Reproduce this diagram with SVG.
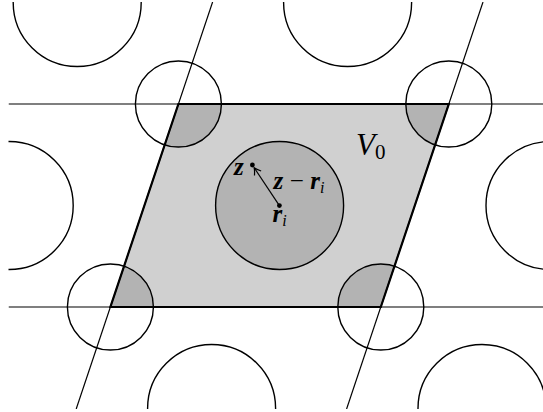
<svg xmlns="http://www.w3.org/2000/svg" width="543" height="412" viewBox="0 0 543 412">
  <defs>
    <clipPath id="view"><rect x="8.5" y="2" width="540" height="407"/></clipPath>
    <clipPath id="cell"><polygon points="178.4,104 448.8,104 380.8,307 110.4,307"/></clipPath>
    <marker id="arr" viewBox="-8 -5 10 10" markerWidth="10" markerHeight="10" refX="0" refY="0" orient="auto" markerUnits="userSpaceOnUse">
      <path d="M-6.5,-4 Q-2.5,-1 0,0 Q-2.5,1 -6.5,4" fill="none" stroke="#000" stroke-width="1.2"/>
    </marker>
  </defs>
  <style>
    .ln { stroke: #000; stroke-width: 1.2; fill: none; }
    .circ { stroke: #000; stroke-width: 1.4; fill: none; }
    .big { stroke: #000; stroke-width: 1.4; fill: #b3b3b3; }
    .cellfill { fill: #d0d0d0; stroke: none; }
    .cellborder { fill: none; stroke: #000; stroke-width: 2.2; stroke-linejoin: miter; }
    .dark { fill: #b3b3b3; stroke: none; }
    .dot { fill: #000; }
    .vec { font-family: "Liberation Serif", "DejaVu Serif", serif; font-style: italic; font-weight: bold; font-size: 25px; fill: #000; }
    .sub { font-family: "Liberation Serif", "DejaVu Serif", serif; font-style: italic; font-size: 16px; fill: #000; }
  </style>
  <rect width="543" height="412" fill="#fff"/>
  <g clip-path="url(#view)">
    <g id="cell-V0">
      <polygon class="cellfill" points="178.4,104 448.8,104 380.8,307 110.4,307"/>
      <g clip-path="url(#cell)">
        <circle class="dark" cx="178.4" cy="104" r="43"/>
        <circle class="dark" cx="448.8" cy="104" r="43"/>
        <circle class="dark" cx="110.4" cy="307" r="43"/>
        <circle class="dark" cx="380.8" cy="307" r="43"/>
      </g>
    </g>
    <g id="lattice-lines">
      <line class="ln" x1="8.5" y1="104" x2="543" y2="104"/>
      <line class="ln" x1="8.5" y1="307" x2="543" y2="307"/>
      <line class="ln" x1="212.6" y1="2" x2="76.2" y2="409"/>
      <line class="ln" x1="483" y1="2" x2="346.6" y2="409"/>
    </g>
    <polygon id="cell-border" class="cellborder" points="178.4,104 448.8,104 380.8,307 110.4,307"/>
    <g id="small-circles">
      <circle class="circ" cx="178.4" cy="104" r="43"/>
      <circle class="circ" cx="448.8" cy="104" r="43"/>
      <circle class="circ" cx="110.4" cy="307" r="43"/>
      <circle class="circ" cx="380.8" cy="307" r="43"/>
    </g>
    <g id="big-circles">
      <circle class="circ" cx="9.2" cy="205.5" r="64"/>
      <circle class="circ" cx="550" cy="205.5" r="64"/>
      <circle class="circ" cx="347.6" cy="2.5" r="64"/>
      <circle class="circ" cx="77.2" cy="2.5" r="64"/>
      <circle class="circ" cx="211.6" cy="408.5" r="64"/>
      <circle class="circ" cx="482" cy="408.5" r="64"/>
    </g>
    <g id="central-circle">
      <circle class="big" cx="279.6" cy="205.5" r="64"/>
    </g>
  </g>
  <g id="connectors">
    <line class="ln" x1="279.4" y1="205.6" x2="254.2" y2="167.8" marker-end="url(#arr)"/>
  </g>
  <g id="point-z">
    <circle class="dot" cx="252.4" cy="165" r="2.4"/>
    <text class="vec" x="234" y="174.5">z</text>
  </g>
  <g id="point-ri">
    <circle class="dot" cx="279.4" cy="205.6" r="2.4"/>
    <text class="vec" x="272.5" y="222">r<tspan class="sub" font-weight="normal" dy="4">i</tspan></text>
  </g>
  <g id="label-diff">
    <text class="vec" x="273.5" y="188.5">z<tspan font-style="normal" font-weight="normal" dx="6.5">−</tspan><tspan dx="6.5">r</tspan><tspan class="sub" font-weight="normal" dy="4">i</tspan></text>
  </g>
  <g id="label-V0">
    <text x="356" y="155" font-family="'Liberation Serif', 'DejaVu Serif', serif" font-style="italic" font-size="31" fill="#000">V<tspan font-style="normal" font-size="21" dy="4">0</tspan></text>
  </g>
</svg>
